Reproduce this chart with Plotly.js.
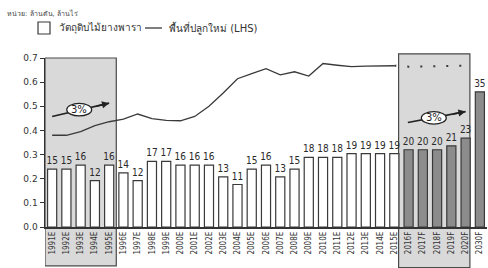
<!DOCTYPE html>
<html>
<head>
<meta charset="utf-8">
<script src="https://cdn.plot.ly/plotly-3.0.1.min.js"></script>
<style>
html,body{margin:0;padding:0;background:#fff;}
#chart{width:488px;height:268px;}
</style>
</head>
<body>
<div id="chart"></div>
<script>
// ---- data ----
var categories = ['1991E','1992E','1993E','1994E','1995E','1996E','1997E','1998E','1999E','2000E',
  '2001E','2002E','2003E','2004E','2005E','2006E','2007E','2008E','2009E','2010E',
  '2011E','2012E','2013E','2014E','2015E','2016F','2017F','2018F','2019F','2020F','2030F'];
var rubberWood = [15,15,16,12,16,14,12,17,17,16,16,16,13,11,15,16,13,15,18,18,18,19,19,19,19,20,20,20,21,23,35];
var lineCats = categories.slice(0, 25);
var newArea = [0.38,0.38,0.395,0.42,0.436,0.447,0.468,0.449,0.442,0.44,
  0.458,0.50,0.555,0.614,0.635,0.656,0.63,0.643,0.625,0.677,0.670,0.664,0.666,0.668,0.668];
var fcCats = ['2015E','2016F','2017F','2018F','2019F','2020F'];
var newAreaFc = [0.668,0.664,0.665,0.666,0.667,0.668];
var growthLabel = '3%';
var seriesNames = ['วัตถุดิบไม้ยางพารา', 'พื้นที่ปลูกใหม่ (LHS)'];
var unitNote = 'หน่วย: ล้านตัน, ล้านไร่';

var barColors = categories.map(function(c){ return /F$/.test(c) ? '#8c8c8c' : '#ffffff'; });

var traces = [
  {
    type: 'bar', x: categories, y: rubberWood, yaxis: 'y2',
    name: seriesNames[0],
    marker: {color: barColors, line: {color: '#3a3a3a', width: 1.2}},
    text: rubberWood.map(String), textposition: 'outside', constraintext: 'none', cliponaxis: false,
    textfont: {family: 'DejaVu Sans Condensed, Liberation Sans Narrow, sans-serif', size: 10, color: '#2a2a2a'},
    hoverinfo: 'skip'
  },
  {
    type: 'scatter', mode: 'lines', x: lineCats, y: newArea,
    name: seriesNames[1],
    line: {color: '#3a3a3a', width: 1.3}
  },
  {
    type: 'scatter', mode: 'lines', x: fcCats, y: newAreaFc,
    line: {color: '#3a3a3a', width: 2, dash: '2px,11px'}
  }
];

function arrowGroup(x0,y0,x1,y1,cx,cy,w,h){
  return [
    {type:'line', xref:'x', yref:'y', x0:x0, y0:y0, x1:x1, y1:y1, line:{color:'#222', width:1.6}, layer:'above'},
    {type:'circle', xref:'x', yref:'y', x0:cx-w/2, x1:cx+w/2, y0:cy-h/2, y1:cy+h/2,
      fillcolor:'#ffffff', line:{color:'#222', width:1.2}, layer:'above'}
  ];
}

var shapes = [
  {type:'rect', xref:'x', yref:'paper', x0:-0.5, x1:4.5, y0:-0.23, y1:1.0,
    fillcolor:'#d9d9d9', line:{color:'#4a4a4a', width:1.2}, layer:'below'},
  {type:'rect', xref:'x', yref:'paper', x0:24.3, x1:29.3, y0:-0.24, y1:1.025,
    fillcolor:'#d9d9d9', line:{color:'#4a4a4a', width:1.2}, layer:'below'},
  // legend symbols
  {type:'rect', xref:'paper', yref:'paper', x0:-0.0158, x1:0.0113, y0:1.142, y1:1.213,
    fillcolor:'#ffffff', line:{color:'#3a3a3a', width:1.2}},
  {type:'line', xref:'paper', yref:'paper', x0:0.2262, x1:0.2647, y0:1.1775, y1:1.1775,
    line:{color:'#3a3a3a', width:1.3}}
].concat(arrowGroup(0, 0.458, 4.0, 0.513, 1.9, 0.486, 1.75, 0.052))
 .concat(arrowGroup(24.95, 0.433, 29.0, 0.478, 26.77, 0.452, 1.75, 0.052));

var annotations = [
  {xref:'paper', yref:'paper', x:-0.09, y:1.266, xanchor:'left', yanchor:'middle', showarrow:false,
    text:unitNote, font:{size:7, color:'#444'}},
  {xref:'paper', yref:'paper', x:0.0271, y:1.1775, xanchor:'left', yanchor:'middle', showarrow:false,
    text:seriesNames[0], font:{size:10, color:'#333'}},
  {xref:'paper', yref:'paper', x:0.276, y:1.1775, xanchor:'left', yanchor:'middle', showarrow:false,
    text:seriesNames[1], font:{size:10, color:'#333'}},
  {xref:'x', yref:'y', x:1.9, y:0.486, text:growthLabel, showarrow:false, font:{size:10, color:'#222'}},
  {xref:'x', yref:'y', x:26.77, y:0.452, text:growthLabel, showarrow:false, font:{size:10, color:'#222'}},
  {xref:'x', yref:'y', x:4.0, y:0.513, ax:3.0, ay:0.499, axref:'x', ayref:'y', showarrow:true,
    arrowhead:2, arrowsize:0.9, arrowwidth:1.6, arrowcolor:'#222', text:'', standoff:0},
  {xref:'x', yref:'y', x:29.0, y:0.478, ax:28.0, ay:0.467, axref:'x', ayref:'y', showarrow:true,
    arrowhead:2, arrowsize:0.9, arrowwidth:1.6, arrowcolor:'#222', text:'', standoff:0}
];

var layout = {
  width: 488, height: 268,
  margin: {l: 45, r: 1, t: 58, b: 41},
  paper_bgcolor: '#ffffff', plot_bgcolor: 'rgba(0,0,0,0)',
  font: {family: 'DejaVu Sans, sans-serif', color: '#333'},
  showlegend: false,
  bargap: 0.36,
  xaxis: {type: 'category', tickangle: -90, showline: true, linecolor: '#333', linewidth: 1.5,
    ticks: '', tickfont: {size: 8, color: '#333', family: 'DejaVu Sans Condensed, sans-serif'},
    showgrid: false, zeroline: false, range: [-0.5, 30.5]},
  yaxis: {range: [0, 0.7], dtick: 0.1, tickformat: '.1f', showline: true, linecolor: '#333', linewidth: 1.5,
    ticks: 'outside', ticklen: 4, tickcolor: '#333', showgrid: false, zeroline: false,
    tickfont: {size: 9, color: '#333'}},
  yaxis2: {overlaying: 'y', range: [0, 43.75], visible: false, showgrid: false},
  shapes: shapes,
  annotations: annotations
};

Plotly.newPlot('chart', traces, layout, {displayModeBar: false, staticPlot: true});
</script>
</body>
</html>
